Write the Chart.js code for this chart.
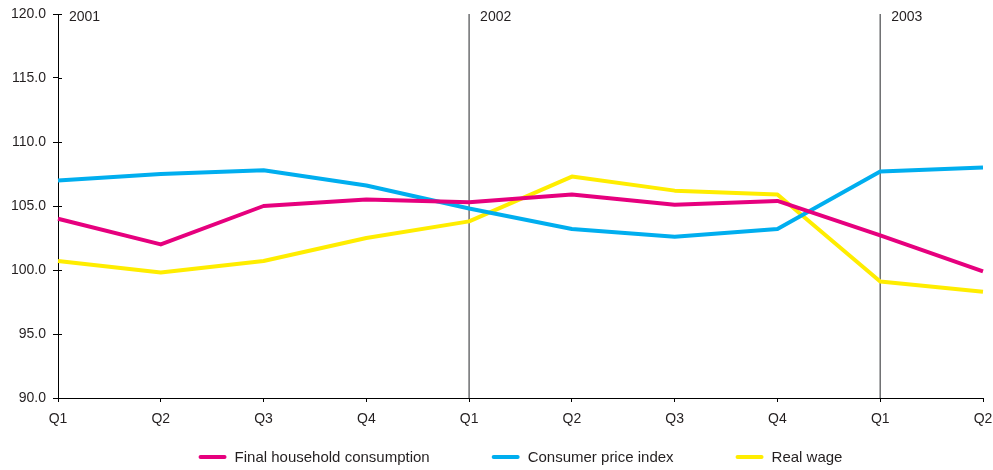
<!DOCTYPE html>
<html>
<head>
<meta charset="utf-8">
<style>
  html, body { margin: 0; padding: 0; background: #fff; }
  #wrap { width: 993px; height: 470px; }
</style>
<script src="https://cdn.jsdelivr.net/npm/chart.js@4/dist/chart.umd.min.js"></script>
</head>
<body>
<div id="wrap"><canvas id="c" width="993" height="470"></canvas></div>
<script>
// Quarterly indices, 2001 Q1 – 2003 Q2
const quarters = ['Q1', 'Q2', 'Q3', 'Q4', 'Q1', 'Q2', 'Q3', 'Q4', 'Q1', 'Q2'];
const yearStarts = [0, 4, 8];
const yearLabels = ['2001', '2002', '2003'];
const seriesNames = ['Final household consumption', 'Consumer price index', 'Real wage'];
const householdConsumption = [104.0, 102.0, 105.0, 105.5, 105.3, 105.9, 105.1, 105.4, 102.7, 99.9];
const consumerPriceIndex = [107.0, 107.5, 107.8, 106.6, 104.8, 103.2, 102.6, 103.2, 107.7, 108.0];
const realWage = [100.7, 99.8, 100.7, 102.5, 103.8, 107.3, 106.2, 105.9, 99.1, 98.3];
const yTicks = [90, 95, 100, 105, 110, 115, 120];

const FONT = '"Liberation Sans", Arial, Helvetica, sans-serif';
const TEXT = '#231f20';
const COLORS = ['#e6007e', '#00aeef', '#ffed00'];

// Year separators with their labels, drawn beneath the lines
const yearMarkers = {
  id: 'yearMarkers',
  beforeDatasetsDraw(chart) {
    const { ctx, chartArea, scales: { x } } = chart;
    ctx.save();
    yearStarts.forEach((idx, i) => {
      const px = x.getPixelForValue(idx);
      if (idx > 0) {
        ctx.strokeStyle = '#6d6e70';
        ctx.lineWidth = 1.5;
        ctx.beginPath();
        ctx.moveTo(px, chartArea.top);
        ctx.lineTo(px, chartArea.bottom);
        ctx.stroke();
      }
      ctx.fillStyle = TEXT;
      ctx.font = '14px ' + FONT;
      ctx.textAlign = 'left';
      ctx.textBaseline = 'middle';
      ctx.fillText(yearLabels[i], px + 11, chartArea.top + 3);
    });
    ctx.restore();
  }
};

// Value-axis ticks crossing the axis line
const crossTicks = {
  id: 'crossTicks',
  afterDraw(chart) {
    const { ctx, scales: { y } } = chart;
    ctx.save();
    ctx.strokeStyle = '#000';
    ctx.lineWidth = 1;
    yTicks.forEach(v => {
      const py = Math.round(y.getPixelForValue(v)) + 0.5;
      ctx.beginPath();
      ctx.moveTo(y.right, py);
      ctx.lineTo(y.right + 4, py);
      ctx.stroke();
    });
    ctx.restore();
  }
};

// Centered legend row under the axis
const bottomLegend = {
  id: 'bottomLegend',
  afterDraw(chart) {
    const { ctx, chartArea } = chart;
    const sample = 28, gapText = 8, gapItem = 62, cy = 457;
    ctx.save();
    ctx.font = '15px ' + FONT;
    const widths = chart.data.datasets.map(d => ctx.measureText(d.label).width);
    const total = widths.reduce((s, w) => s + sample + gapText + w, 0) + gapItem * (widths.length - 1);
    let cx = (chartArea.left + chartArea.right) / 2 - total / 2;
    chart.data.datasets.forEach((d, i) => {
      ctx.strokeStyle = d.borderColor;
      ctx.lineWidth = 4;
      ctx.lineCap = 'round';
      ctx.beginPath();
      ctx.moveTo(cx + 2, cy);
      ctx.lineTo(cx + sample - 2, cy);
      ctx.stroke();
      ctx.fillStyle = TEXT;
      ctx.textAlign = 'left';
      ctx.textBaseline = 'middle';
      ctx.fillText(d.label, cx + sample + gapText, cy + 1);
      cx += sample + gapText + widths[i] + gapItem;
    });
    ctx.restore();
  }
};

const lineStyle = {
  borderWidth: 4,
  pointRadius: 0,
  pointHoverRadius: 0,
  tension: 0,
  fill: false,
  borderJoinStyle: 'round',
  borderCapStyle: 'butt'
};

new Chart(document.getElementById('c'), {
  type: 'line',
  data: {
    labels: quarters,
    datasets: [
      Object.assign({ label: seriesNames[0], data: householdConsumption, borderColor: COLORS[0] }, lineStyle),
      Object.assign({ label: seriesNames[1], data: consumerPriceIndex, borderColor: COLORS[1] }, lineStyle),
      Object.assign({ label: seriesNames[2], data: realWage, borderColor: COLORS[2] }, lineStyle)
    ]
  },
  options: {
    responsive: false,
    animation: false,
    events: [],
    layout: { padding: { top: 14, right: 10, left: 0, bottom: 42 } },
    plugins: {
      legend: { display: false },
      tooltip: { enabled: false }
    },
    scales: {
      x: {
        type: 'category',
        offset: false,
        grid: { drawOnChartArea: false, tickLength: 4, tickColor: '#000', tickWidth: 1 },
        border: { color: '#000', width: 1 },
        ticks: { color: TEXT, font: { family: FONT, size: 14 }, padding: 9, maxRotation: 0, autoSkip: false },
        afterFit(scale) {
          scale.height = 30;
          scale.paddingLeft = 0;
          scale.paddingRight = 0;
        }
      },
      y: {
        min: 90,
        max: 120,
        grid: { drawOnChartArea: false, tickLength: 5, tickColor: '#000', tickWidth: 1 },
        border: { color: '#000', width: 1 },
        ticks: {
          color: TEXT,
          font: { family: FONT, size: 14 },
          padding: 7,
          callback: v => Number(v).toFixed(1)
        },
        afterBuildTicks(scale) { scale.ticks = yTicks.map(v => ({ value: v })); },
        afterFit(scale) {
          scale.width = 58;
          scale.paddingTop = 0;
          scale.paddingBottom = 0;
        }
      }
    }
  },
  plugins: [yearMarkers, crossTicks, bottomLegend]
});
</script>
</body>
</html>
